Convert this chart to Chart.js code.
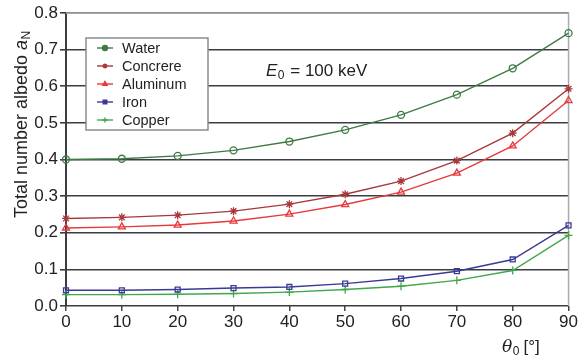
<!DOCTYPE html>
<html><head><meta charset="utf-8">
<script src="https://cdn.jsdelivr.net/npm/chart.js@4/dist/chart.umd.min.js"></script>
<style>html,body{margin:0;padding:0;background:#fff}#wrap{width:579px;height:362px}</style>
</head><body><div id="wrap"><canvas id="c" width="579" height="362"></canvas></div>
<script>
const angles = [0, 10, 20, 30, 40, 50, 60, 70, 80, 90];
const water = [0.400, 0.402, 0.410, 0.425, 0.449, 0.481, 0.522, 0.577, 0.649, 0.745];
const concrete = [0.239, 0.242, 0.248, 0.259, 0.278, 0.305, 0.341, 0.397, 0.472, 0.593];
const aluminum = [0.213, 0.216, 0.221, 0.232, 0.251, 0.277, 0.311, 0.363, 0.437, 0.561];
const iron = [0.043, 0.043, 0.045, 0.049, 0.052, 0.061, 0.075, 0.095, 0.127, 0.220];
const copper = [0.031, 0.031, 0.032, 0.034, 0.038, 0.045, 0.054, 0.070, 0.097, 0.193];
const seriesNames = ['Water', 'Concrere', 'Aluminum', 'Iron', 'Copper'];
const yTicks = [0, 0.1, 0.2, 0.3, 0.4, 0.5, 0.6, 0.7, 0.8];

const FONT = '"Liberation Sans", Arial, sans-serif';
const styles = [
  {c:'#3f7a45', ps:'circle', r:3.5},
  {c:'#a8383a', ps:'star', r:4},
  {c:'#e8383a', ps:'triangle', r:4},
  {c:'#3a3a96', ps:'rect', r:3.5},
  {c:'#3fa84a', ps:'cross', r:4}
];
const allData = [water, concrete, aluminum, iron, copper];
const datasets = allData.map((d,i)=>({
  label: seriesNames[i],
  data: angles.map((a,j)=>({x:a, y:d[j]})),
  borderColor: styles[i].c,
  backgroundColor: 'rgba(255,255,255,0)',
  pointStyle: styles[i].ps,
  pointRadius: styles[i].r,
  pointBorderColor: styles[i].c,
  pointBorderWidth: 1.3,
  pointBackgroundColor: 'rgba(255,255,255,0)',
  borderWidth: 1.4,
  tension: 0,
  fill: false,
  clip: false
}));

const extras = {
  id: 'extras',
  beforeDatasetsDraw(chart){
    const {ctx, chartArea:a} = chart;
    ctx.save();
    ctx.strokeStyle = '#a9abaf';
    ctx.lineWidth = 1.5;
    ctx.beginPath();
    ctx.moveTo(a.left, a.top); ctx.lineTo(a.right, a.top); ctx.lineTo(a.right, a.bottom);
    ctx.stroke();
    ctx.restore();
  },
  afterDraw(chart){
    const {ctx} = chart;
    ctx.save();
    // legend box
    const bx = 86, by = 38, bw = 122, bh = 92;
    ctx.fillStyle = '#fff';
    ctx.fillRect(bx, by, bw, bh);
    ctx.strokeStyle = '#8a8d92';
    ctx.lineWidth = 1.5;
    ctx.strokeRect(bx, by, bw, bh);
    ctx.font = '14.5px ' + FONT;
    ctx.textBaseline = 'middle';
    ctx.textAlign = 'left';
    seriesNames.forEach((n,i)=>{
      const y = 48 + i*18;
      ctx.strokeStyle = styles[i].c;
      ctx.fillStyle = styles[i].c;
      ctx.lineWidth = 1.4;
      ctx.beginPath(); ctx.moveTo(97, y); ctx.lineTo(113, y); ctx.stroke();
      Chart.helpers.drawPoint(ctx, {pointStyle: styles[i].ps, radius: 2.5, borderWidth: 1.3, rotation: 0}, 105, y);
      ctx.fillStyle = '#222';
      ctx.fillText(n, 122, y + 1);
    });
    // E0 annotation
    ctx.fillStyle = '#222';
    ctx.font = 'italic 17px ' + FONT;
    let x = 266, yb = 76;
    ctx.textBaseline = 'alphabetic';
    ctx.fillText('E', x, yb);
    x += ctx.measureText('E').width + 0.5;
    ctx.font = '12px ' + FONT;
    ctx.fillText('0', x, yb + 3);
    x += ctx.measureText('0').width + 1;
    ctx.font = '17px ' + FONT;
    ctx.fillText(' = 100 keV', x, yb);
    // x axis title
    ctx.font = 'italic 17px "DejaVu Serif", "Liberation Serif", serif';
    x = 502; yb = 352;
    ctx.fillText('\u03B8', x, yb);
    x += ctx.measureText('\u03B8').width + 0.5;
    ctx.font = '12px ' + FONT;
    ctx.fillText('0', x, yb + 3);
    x += ctx.measureText('0').width + 4;
    ctx.font = '17px ' + FONT;
    ctx.fillText('[\u00B0]', x, yb);
    // y axis title
    ctx.translate(27, 218);
    ctx.rotate(-Math.PI/2);
    ctx.font = '18px ' + FONT;
    let t = 'Total number albedo ';
    ctx.fillText(t, 0, 0);
    let tx = ctx.measureText(t).width;
    ctx.font = 'italic 18px ' + FONT;
    ctx.fillText('a', tx, 0);
    tx += ctx.measureText('a').width + 0.5;
    ctx.font = '12px ' + FONT;
    ctx.fillText('N', tx, 3);
    ctx.restore();
  }
};

new Chart(document.getElementById('c'), {
  type: 'line',
  data: { datasets },
  options: {
    responsive: false,
    animation: false,
    layout: { autoPadding: false, padding: { left: 0, right: 10, top: 13, bottom: 0 } },
    plugins: { legend: { display: false }, tooltip: { enabled: false } },
    scales: {
      x: {
        type: 'linear', min: 0, max: 90,
        afterFit(s){ s.height = 56; },
        ticks: { stepSize: 10, color: '#222', font: { family: FONT, size: 17 }, padding: 1 },
        grid: { display: true, drawOnChartArea: false, drawTicks: true, tickLength: 5, color: '#444', lineWidth: 1.5 },
        border: { display: false }
      },
      y: {
        min: 0, max: 0.8,
        afterFit(s){ s.width = 66; },
        afterBuildTicks(s){ s.ticks = yTicks.map(v=>({value:v})); },
        ticks: { color: '#222', font: { family: FONT, size: 17 }, padding: 2, callback: v => Number(v).toFixed(1) },
        grid: { color: '#3a3d42', lineWidth: 1.6, tickLength: 6, drawTicks: true },
        border: { display: true, color: '#3a3d42', width: 2 }
      }
    }
  },
  plugins: [extras]
});
</script></body></html>
